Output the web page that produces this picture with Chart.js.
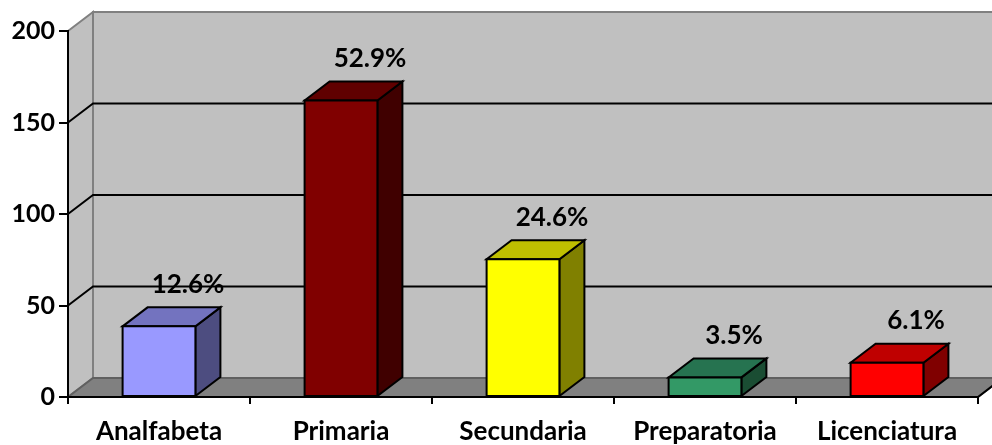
<!DOCTYPE html>
<html>
<head>
<meta charset="utf-8">
<script src="https://cdn.jsdelivr.net/npm/chart.js@4.4.1/dist/chart.umd.min.js"></script>
<style>
  html, body { margin: 0; padding: 0; background: #fff; }
  #wrap { width: 992px; height: 445px; }
</style>
</head>
<body>
<div id="wrap"><canvas id="my-chart"></canvas></div>
<script>
'use strict';

// data
let categories = ['Analfabeta', 'Primaria', 'Secundaria', 'Preparatoria', 'Licenciatura'];
let counts = [38.6, 162, 75.3, 10.7, 18.7];
let percentLabels = ['12.6%', '52.9%', '24.6%', '3.5%', '6.1%'];

// colours for the 3d faces
let frontColors = ['#9999FF', '#800000', '#FFFF00', '#339966', '#FF0000'];
let topColors = ['#7373BF', '#600000', '#BFBF00', '#267350', '#BF0000'];
let sideColors = ['#4D4D80', '#400000', '#808000', '#1A4D33', '#800000'];

const ctx = document.getElementById('my-chart').getContext('2d');
const dx = 25;
const dy = -19;
const fontFamily = 'Lato, "Open Sans", sans-serif';

function poly(c, pts, fill, stroke, lw) {
  c.beginPath();
  c.moveTo(pts[0][0], pts[0][1]);
  for (let i = 1; i < pts.length; i++) {
    c.lineTo(pts[i][0], pts[i][1]);
  }
  c.closePath();
  if (fill) {
    c.fillStyle = fill;
    c.fill();
  }
  if (stroke) {
    c.strokeStyle = stroke;
    c.lineWidth = lw;
    c.stroke();
  }
}

//walls, floor and gridlines behind the bars
const wallsPlugin = {
  id: 'walls',
  beforeDraw(chart) {
    let c = chart.ctx;
    let a = chart.chartArea;
    let yScale = chart.scales.y;
    c.save();
    c.lineJoin = 'miter';
    // back wall
    poly(c, [[a.left + dx, a.top + dy], [a.right + dx, a.top + dy], [a.right + dx, a.bottom + dy], [a.left + dx, a.bottom + dy]], '#C0C0C0', '#808080', 2);
    // side wall
    poly(c, [[a.left, a.top], [a.left + dx, a.top + dy], [a.left + dx, a.bottom + dy], [a.left, a.bottom]], '#C0C0C0', '#808080', 2);
    // floor
    poly(c, [[a.left, a.bottom], [a.right, a.bottom], [a.right + dx, a.bottom + dy], [a.left + dx, a.bottom + dy]], '#808080', '#606060', 2);

    // gridlines
    c.strokeStyle = '#000';
    c.lineWidth = 2;
    yScale.ticks.forEach(function(t) {
      if (t.value === yScale.min || t.value === yScale.max) return;
      let y = yScale.getPixelForValue(t.value);
      c.beginPath();
      c.moveTo(a.left, y);
      c.lineTo(a.left + dx, y + dy);
      c.lineTo(a.right + dx, y + dy);
      c.stroke();
    });
    // right edge of floor
    c.beginPath();
    c.moveTo(a.right, a.bottom);
    c.lineTo(a.right + dx, a.bottom + dy);
    c.stroke();
    c.restore();
  }
};

//3d bars + labels
const barsPlugin = {
  id: 'bars3d',
  afterDatasetsDraw(chart) {
    let c = chart.ctx;
    let meta = chart.getDatasetMeta(0);
    c.save();
    c.lineJoin = 'miter';
    meta.data.forEach(function(bar, i) {
      let w = bar.width;
      let l = bar.x - w / 2;
      let r = bar.x + w / 2;
      let t = bar.y;
      let b = bar.base;
      poly(c, [[r, t], [r + dx, t + dy], [r + dx, b + dy], [r, b]], sideColors[i], '#000', 2);
      poly(c, [[l, t], [r, t], [r + dx, t + dy], [l + dx, t + dy]], topColors[i], '#000', 2);
      poly(c, [[l, t], [r, t], [r, b], [l, b]], frontColors[i], '#000', 2);
    });
    c.fillStyle = '#000';
    c.font = 'bold 26px ' + fontFamily;
    c.textAlign = 'center';
    c.textBaseline = 'middle';
    meta.data.forEach(function(bar, i) {
      c.fillText(percentLabels[i], bar.x + dx + 4, bar.y + dy - 23);
    });
    c.restore();
  }
};

const myObj = {
  type: 'bar',
  data: {
    labels: categories,
    datasets: [{
      data: counts,
      backgroundColor: 'rgba(0,0,0,0)',
      borderWidth: 0,
      categoryPercentage: 0.8,
      barPercentage: 0.5
    }]
  },
  options: {
    responsive: true,
    maintainAspectRatio: false,
    animation: false,
    layout: {
      padding: { top: 31, right: 14, left: 0, bottom: 0 }
    },
    plugins: {
      legend: { display: false },
      tooltip: { enabled: false }
    },
    scales: {
      x: {
        afterFit(scale) { scale.height = 48; },
        grid: {
          offset: true,
          drawOnChartArea: false,
          drawTicks: true,
          tickLength: 7,
          color: '#000',
          lineWidth: 2
        },
        border: { display: true, color: '#000', width: 2 },
        ticks: {
          color: '#000',
          padding: 12,
          font: { family: fontFamily, weight: 'bold', size: 26 }
        }
      },
      y: {
        min: 0,
        max: 200,
        afterFit(scale) { scale.width = 68; },
        grid: {
          drawOnChartArea: false,
          drawTicks: true,
          tickLength: 9,
          color: '#000',
          lineWidth: 2
        },
        border: { display: true, color: '#000', width: 2 },
        ticks: {
          stepSize: 50,
          color: '#000',
          padding: 4,
          font: { family: fontFamily, weight: 'bold', size: 25 }
        }
      }
    }
  },
  plugins: [wallsPlugin, barsPlugin]
};

const myChart = new Chart(ctx, myObj);
</script>
</body>
</html>
